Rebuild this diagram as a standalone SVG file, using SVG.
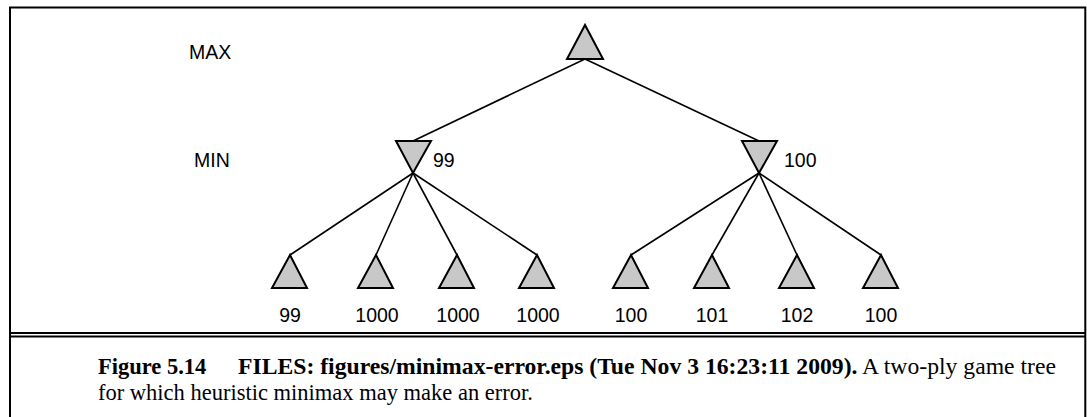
<svg xmlns="http://www.w3.org/2000/svg" width="1087" height="417" viewBox="0 0 1087 417">
<style>
.frame{fill:none;stroke:#000;stroke-width:2}
.edge{fill:none;stroke:#000;stroke-width:1.6}
.tri{fill:#c8c8c8;stroke:#000;stroke-width:2;stroke-linejoin:miter}
.lbl{font-family:"Liberation Sans",Arial,sans-serif;font-size:19.5px;fill:#000}
.cap{font-family:"Liberation Serif","Times New Roman",serif;font-size:22.5px;fill:#000}
.b{font-weight:bold}
</style>
<rect width="1087" height="417" fill="#fff"/>
<g id="frame">
<polyline class="frame" points="10,417 10,7.5 1085.3,7.5 1085.3,417"/>
<line class="frame" x1="10" y1="333" x2="1085.3" y2="333" stroke-width="1.6"/>
<line class="frame" x1="10" y1="336.5" x2="1085.3" y2="336.5"/>
</g>
<g id="connectors">
<line class="edge" x1="585" y1="59" x2="413" y2="141"/>
<line class="edge" x1="585" y1="59" x2="759" y2="141"/>
<line class="edge" x1="413" y1="173" x2="290" y2="255"/>
<line class="edge" x1="413" y1="173" x2="376" y2="255"/>
<line class="edge" x1="413" y1="173" x2="457" y2="255"/>
<line class="edge" x1="413" y1="173" x2="537" y2="255"/>
<line class="edge" x1="759" y1="173" x2="631" y2="255"/>
<line class="edge" x1="759" y1="173" x2="712" y2="255"/>
<line class="edge" x1="759" y1="173" x2="797" y2="255"/>
<line class="edge" x1="759" y1="173" x2="881" y2="255"/>
</g>
<g id="level-labels">
<text class="lbl" x="189" y="59">MAX</text>
<text class="lbl" x="194" y="167">MIN</text>
</g>
<g id="root"><polygon class="tri" points="585,25 567,59 603,59"/></g>
<g id="min-left"><polygon class="tri" points="396,141 431,141 413,173"/><text class="lbl" x="433" y="167">99</text></g>
<g id="min-right"><polygon class="tri" points="742,141 777,141 759,173"/><text class="lbl" x="784" y="167">100</text></g>
<g id="leaf1"><polygon class="tri" points="290,255 272,288 307,288"/><text class="lbl" x="290" y="322" text-anchor="middle">99</text></g>
<g id="leaf2"><polygon class="tri" points="376,255 358,288 393,288"/><text class="lbl" x="377" y="322" text-anchor="middle">1000</text></g>
<g id="leaf3"><polygon class="tri" points="457,255 439,288 474,288"/><text class="lbl" x="458" y="322" text-anchor="middle">1000</text></g>
<g id="leaf4"><polygon class="tri" points="537,255 519,288 554,288"/><text class="lbl" x="538" y="322" text-anchor="middle">1000</text></g>
<g id="leaf5"><polygon class="tri" points="631,255 613,288 648,288"/><text class="lbl" x="631" y="322" text-anchor="middle">100</text></g>
<g id="leaf6"><polygon class="tri" points="712,255 694,288 729,288"/><text class="lbl" x="712" y="322" text-anchor="middle">101</text></g>
<g id="leaf7"><polygon class="tri" points="797,255 779,288 814,288"/><text class="lbl" x="797" y="322" text-anchor="middle">102</text></g>
<g id="leaf8"><polygon class="tri" points="881,255 863,288 898,288"/><text class="lbl" x="881" y="322" text-anchor="middle">100</text></g>
<g id="caption">
<text class="cap b" x="98" y="374">Figure 5.14</text>
<text class="cap" x="238" y="374" textLength="818" lengthAdjust="spacingAndGlyphs"><tspan class="b">FILES: figures/minimax-error.eps (Tue Nov 3 16:23:11 2009).</tspan> A two-ply game tree</text>
<text class="cap" x="98" y="400">for which heuristic minimax may make an error.</text>
</g>
</svg>
